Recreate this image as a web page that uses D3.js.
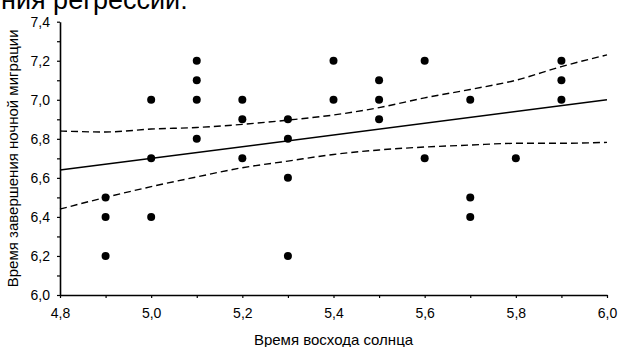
<!DOCTYPE html>
<html>
<head>
<meta charset="utf-8">
<script src="https://cdn.jsdelivr.net/npm/d3@7"></script>
<style>
  html, body { margin: 0; padding: 0; background: #fff; }
  svg { display: block; }
</style>
</head>
<body>
<svg id="chart" width="619" height="347"></svg>
<script>
// ---- data ----
const sunrise   = [4.9,4.9,4.9, 5.0,5.0,5.0, 5.1,5.1,5.1,5.1, 5.2,5.2,5.2, 5.3,5.3,5.3,5.3, 5.4,5.4, 5.5,5.5,5.5, 5.6,5.6, 5.7,5.7,5.7, 5.8, 5.9,5.9,5.9];
const migration = [6.5,6.4,6.2, 7.0,6.7,6.4, 7.2,7.1,7.0,6.8, 7.0,6.9,6.7, 6.9,6.8,6.6,6.2, 7.2,7.0, 7.1,7.0,6.9, 7.2,6.7, 7.0,6.5,6.4, 6.7, 7.2,7.1,7.0];

const fitX = [4.8, 6.0];
const fitY = [6.64, 7.0];

const bandX     = [4.8, 4.9, 5.0, 5.1, 5.2, 5.3, 5.4, 5.5, 5.6, 5.7, 5.8, 5.9, 6.0];
const bandUpper = [6.84, 6.835, 6.85, 6.858, 6.874, 6.896, 6.922, 6.96, 7.01, 7.053, 7.10, 7.17, 7.23];
const bandLower = [6.44, 6.50, 6.555, 6.605, 6.652, 6.686, 6.72, 6.743, 6.758, 6.768, 6.777, 6.777, 6.782];

const xTicks = [4.8,4.9,5.0,5.1,5.2,5.3,5.4,5.5,5.6,5.7,5.8,5.9,6.0];
const yTicks = [6.0,6.1,6.2,6.3,6.4,6.5,6.6,6.7,6.8,6.9,7.0,7.1,7.2,7.3,7.4];
const xLabelTicks = [4.8,5.0,5.2,5.4,5.6,5.8,6.0];
const yLabelTicks = [6.0,6.2,6.4,6.6,6.8,7.0,7.2,7.4];

const headerText = "ния регрессии:";
const xTitle = "Время восхода солнца";
const yTitle = "Время завершения ночной миграции";

// ---- drawing ----
const svg = d3.select("#chart");
const FONT = "'Liberation Sans', Arial, sans-serif";

const x = d3.scaleLinear().domain([4.8, 6.0]).range([60, 607]);
const y = d3.scaleLinear().domain([6.0, 7.4]).range([295, 21.7]);

const fmt = d => d3.format(".1f")(d).replace(".", ",");
const isLabel = (arr, d) => arr.some(v => Math.abs(v - d) < 1e-9);

// header (cut off at the top)
svg.append("text")
  .attr("x", 1).attr("y", 9)
  .attr("font-family", FONT).attr("font-size", 27)
  .attr("fill", "#000")
  .text(headerText);

// x axis
const gx = svg.append("g").attr("transform", `translate(0,${y(6.0)})`)
  .call(d3.axisBottom(x).tickValues(xTicks).tickSize(3).tickSizeOuter(0).tickPadding(10)
    .tickFormat(d => isLabel(xLabelTicks, d) ? fmt(d) : ""));
// y axis
const gy = svg.append("g").attr("transform", `translate(${x(4.8)},0)`)
  .call(d3.axisLeft(y).tickValues(yTicks).tickSize(3).tickSizeOuter(0).tickPadding(7)
    .tickFormat(d => isLabel(yLabelTicks, d) ? fmt(d) : ""));

[gx, gy].forEach(g => {
  g.select(".domain").attr("stroke", "#000").attr("stroke-width", 1.6);
  g.selectAll(".tick line").attr("stroke", "#000").attr("stroke-width", 1.2);
  g.selectAll(".tick text").attr("font-family", FONT).attr("font-size", 14).attr("fill", "#000");
});

// confidence band (dashed)
const line = d3.line().x(d => x(d[0])).y(d => y(d[1])).curve(d3.curveMonotoneX);
[bandUpper, bandLower].forEach(arr => {
  svg.append("path")
    .datum(bandX.map((v, i) => [v, arr[i]]))
    .attr("d", line)
    .attr("fill", "none").attr("stroke", "#000")
    .attr("stroke-width", 1.4).attr("stroke-dasharray", "7,4");
});

// regression line
svg.append("path")
  .datum(fitX.map((v, i) => [v, fitY[i]]))
  .attr("d", d3.line().x(d => x(d[0])).y(d => y(d[1])))
  .attr("fill", "none").attr("stroke", "#000").attr("stroke-width", 1.5);

// points
svg.append("g").selectAll("circle")
  .data(sunrise.map((v, i) => [v, migration[i]]))
  .join("circle")
  .attr("cx", d => x(d[0])).attr("cy", d => y(d[1]))
  .attr("r", 4).attr("fill", "#000");

// axis titles
svg.append("text")
  .attr("x", (x(4.8) + x(6.0)) / 2).attr("y", 345)
  .attr("text-anchor", "middle")
  .attr("font-family", FONT).attr("font-size", 15).attr("fill", "#000")
  .text(xTitle);

svg.append("text")
  .attr("transform", `translate(18,${(y(6.0) + y(7.4)) / 2}) rotate(-90)`)
  .attr("text-anchor", "middle")
  .attr("font-family", FONT).attr("font-size", 15).attr("fill", "#000")
  .text(yTitle);
</script>
</body>
</html>
